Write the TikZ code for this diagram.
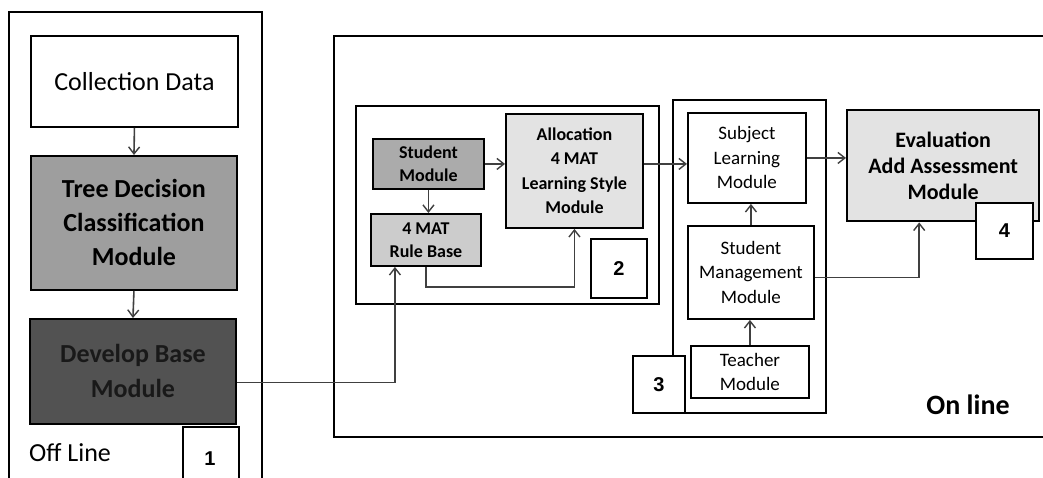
\documentclass[tikz,border=0pt]{standalone}
\usepackage{fontspec}
\setmainfont{Carlito}
\newfontfamily\numfont{Liberation Sans}
\usetikzlibrary{arrows.meta,calc}
\tikzset{
  box/.style={draw, line width=1.9pt, align=center, inner sep=0pt, anchor=north west},
  frame/.style={draw, line width=2pt, inner sep=0pt, anchor=north west},
  numbox/.style={draw, fill=white, line width=1.9pt, inner sep=0pt, anchor=north west, font=\numfont\bfseries\fontsize{20}{24}\selectfont},
  arr/.style={draw=black!75, line width=1.6pt, -{Straight Barb[length=7pt,width=11pt,line width=1.4pt]}},
}
\begin{document}
\begin{tikzpicture}[x=1pt,y=-1pt]
\useasboundingbox (0,0) rectangle (1043,478);
\clip (0,0) rectangle (1043,478);
\fill[white] (0,0) rectangle (1043,478);
% outer frames
\node[frame, minimum width=253pt, minimum height=490pt] (off) at (8,11) {};
\node[frame, minimum width=730pt, minimum height=401pt] (on) at (333,35) {};
% left column
\node[box, minimum width=207pt, minimum height=91pt, font=\fontsize{26}{32}\selectfont] (coll) at (30,35) {Collection Data};
\node[box, fill=black!38, minimum width=206pt, minimum height=134pt, font=\bfseries\fontsize{26}{34}\selectfont] (tree) at (30,155) {Tree Decision\\Classification\\Module};
\node[box, fill=black!68, text=black!90, minimum width=206pt, minimum height=105pt, font=\bfseries\fontsize{26}{35}\selectfont] (dev) at (29,318) {Develop Base\\Module};
\node[numbox, minimum width=56pt, minimum height=70pt] (n1) at (182,426) {};
\node[font=\numfont\bfseries\fontsize{20}{24}\selectfont] (n1t) at (210,459) {1};
\node[anchor=west, inner sep=0pt, font=\fontsize{26}{30}\selectfont] (offt) at (29,453) {Off Line};
% group 2
\node[frame, minimum width=303pt, minimum height=198pt] (grp2) at (355,105) {};
\node[box, fill=black!33, minimum width=111pt, minimum height=50pt, font=\bfseries\fontsize{18}{23}\selectfont] (stud) at (372,138) {Student\\Module};
\node[box, fill=black!20, minimum width=110pt, minimum height=52pt, font=\bfseries\fontsize{18}{23}\selectfont] (rule) at (370,213) {4 MAT\\Rule Base};
\node[box, fill=black!11, minimum width=137pt, minimum height=114pt, font=\bfseries\fontsize{18}{24.5}\selectfont] (alloc) at (505,113) {Allocation\\4 MAT\\Learning Style\\Module};
\node[numbox, minimum width=56pt, minimum height=59pt] (n2) at (590,238) {2};
% group 3
\node[frame, minimum width=153pt, minimum height=313pt] (grp3) at (672,99) {};
\node[box, minimum width=118pt, minimum height=90pt, font=\fontsize{19}{24.5}\selectfont] (subj) at (687,112) {Subject\\Learning\\Module};
\node[box, minimum width=126pt, minimum height=93pt, font=\fontsize{19}{24.5}\selectfont] (mgmt) at (687,225) {Student\\Management\\Module};
\node[box, minimum width=118pt, minimum height=52pt, font=\fontsize{19}{24}\selectfont] (teach) at (690,345) {Teacher\\Module};
\node[numbox, minimum width=52pt, minimum height=57pt] (n3) at (632,355) {3};
% evaluation
\node[box, fill=black!11, line width=2.4pt, minimum width=192pt, minimum height=111pt, font=\bfseries\fontsize{22}{26}\selectfont] (eval) at (846,109) {Evaluation\\Add Assessment\\Module};
\node[numbox, minimum width=57pt, minimum height=56pt] (n4) at (975,202) {4};
\node[font=\bfseries\fontsize{28}{32}\selectfont] (onlt) at (968,405) {On line};
% connectors
\draw[arr] (coll.south) -- (tree.north);
\draw[arr] (tree.south) -- (dev.north);
\draw[arr] ([yshift=-11pt]dev.east) -| ([xshift=-31pt]rule.south);
\draw[arr] (stud.south) -- (stud.south |- rule.north);
\draw[arr] (stud.east) -- (alloc.west |- stud.east);
\draw[arr] (rule.south) -- ++(0,20) -| (alloc.south);
\draw[arr] (alloc.east |- stud.east) -- (subj.west |- stud.east);
\draw[arr] (mgmt.north) -- (mgmt.north |- subj.south);
\draw[arr] (teach.north) -- (teach.north |- mgmt.south);
\draw[arr] (subj.east) -- (eval.west |- subj.east);
\draw[arr] ([yshift=-5pt]mgmt.east) -| ([xshift=-24pt]eval.south);
\end{tikzpicture}
\end{document}
